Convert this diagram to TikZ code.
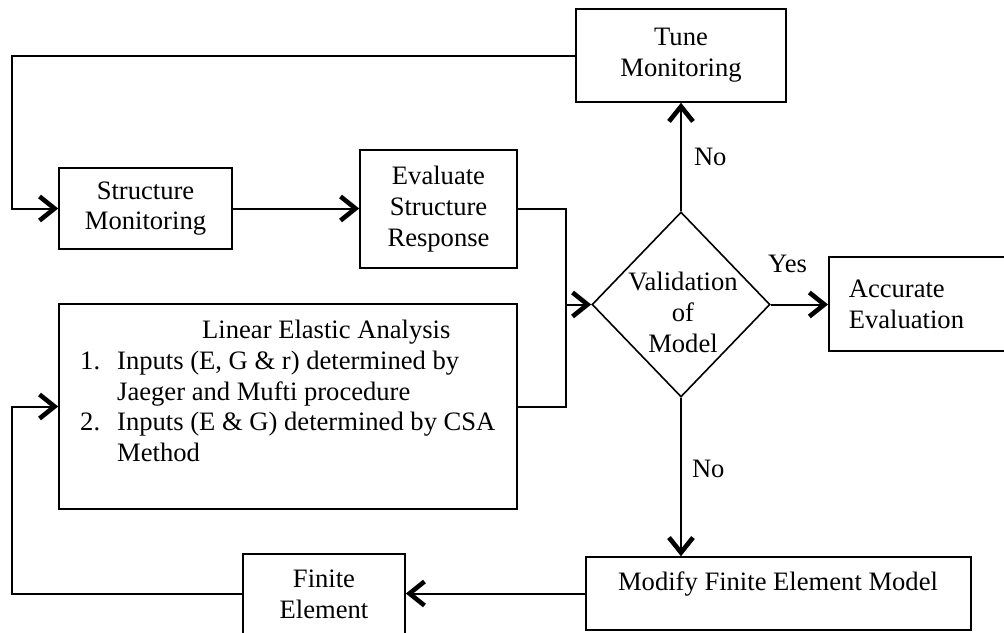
\documentclass[tikz,border=0pt]{standalone}
\usepackage{fontspec}
\setmainfont{Liberation Serif}
\usetikzlibrary{arrows.meta,shapes.geometric}
\begin{document}
\begin{tikzpicture}[x=1pt,y=-1pt,
  font=\fontsize{26.6}{30.7}\selectfont,
  box/.style={draw=black,line width=1.6pt,rectangle,inner sep=0pt,align=center},
  txt/.style={inner sep=0pt},
  conn/.style={draw=black,line width=2pt},
  arr/.style={conn,-{Straight Barb[length=15pt,width=24pt,line width=4.6pt]}}]
\useasboundingbox (0,0) rectangle (1004,632);
% boxes
\node[box,minimum width=210pt,minimum height=93pt] (tune) at (681,55.5) {Tune\\Monitoring};
\node[box,minimum width=173pt,minimum height=81pt] (sm) at (145.5,208.5) {Structure\\Monitoring};
\node[box,minimum width=157pt,minimum height=118pt] (eval) at (438.5,209) {Evaluate\\Structure\\Response};
\node[box,minimum width=458pt,minimum height=205pt] (lea) at (288,406.5) {};
\node[draw=black,line width=1.6pt,diamond,inner sep=0pt,minimum width=178pt,minimum height=185pt] (diam) at (681,304.5) {};
\node[box,anchor=west,text width=150pt,align=left,inner xsep=20pt,minimum height=94pt] (acc) at (828,304) {Accurate\\Evaluation};
\node[box,minimum width=162pt,minimum height=80pt] (fe) at (324,594) {Finite\\Element};
\node[box,minimum width=385pt,minimum height=73pt] (mod) at (778.5,593.5) {};
% texts placed inside shapes
\node[txt,anchor=north,align=center] (dtxt) at (683,272) {Validation\\of\\Model};
\node[txt,anchor=north west,align=left] (leatxt) at (80,320) {\hspace*{122pt}Linear Elastic Analysis\\
\makebox[37pt][l]{1.}Inputs (E, G \& r) determined by\\
\hspace*{37pt}Jaeger and Mufti procedure\\
\makebox[37pt][l]{2.}Inputs (E \& G) determined by CSA\\
\hspace*{37pt}Method};
\node[txt,anchor=base] (modtxt) at (778,590) {Modify Finite Element Model};
% coordinates
\coordinate (ctl) at (12,56);
\coordinate (j1) at (566,209);
\coordinate (j2) at (566,406.5);
\coordinate (cbl) at (12,500);
% connectors
\draw[arr] (tune.west) -| (ctl) |- (sm.west);
\draw[arr] (sm.east) -- (eval.west |- sm.east);
\draw[conn] (eval.east) -| (j2) -- (lea.east);
\draw[arr] (j1 |- diam.west) -- (diam.west);
\draw[arr] (diam.north) -- (tune.south) node[pos=0.5,right=12pt,txt,anchor=west] (no1) {No};
\draw[arr] (diam.east) -- (acc.west |- diam.east);
\draw[arr] (diam.south) -- (diam.south |- mod.north) node[pos=0.45,txt,anchor=west,xshift=10pt] (no2) {No};
\draw[arr] (mod.west) -- (fe.east |- mod.west);
\draw[arr] (fe.west) -| (cbl) |- (lea.west);
\node[txt,anchor=base west] (yes) at (768,272) {Yes};
\end{tikzpicture}
\end{document}
